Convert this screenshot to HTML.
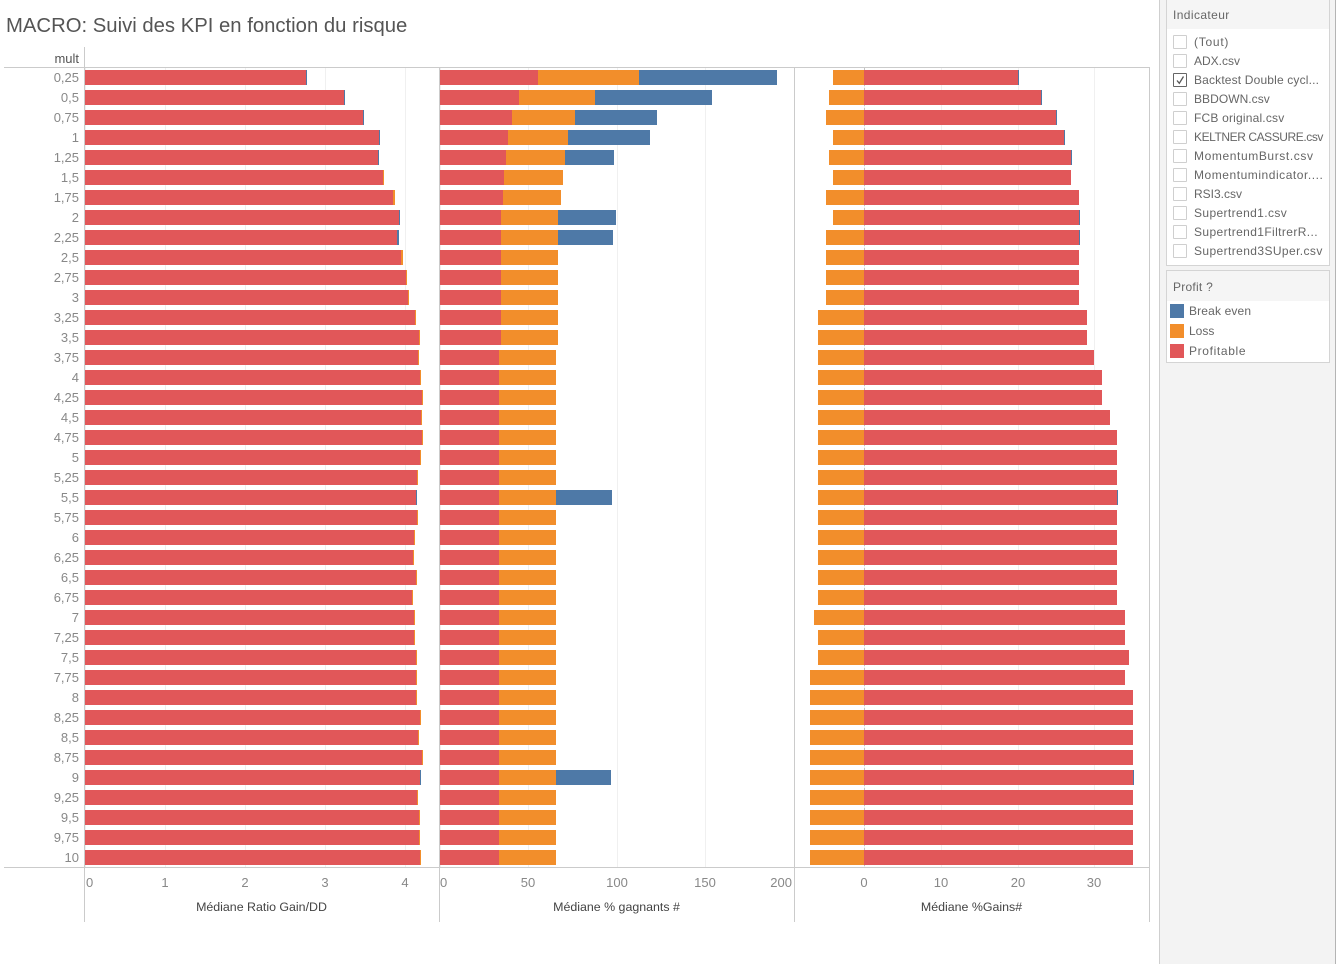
<!DOCTYPE html>
<html lang="fr">
<head>
<meta charset="utf-8">
<title>MACRO: Suivi des KPI en fonction du risque</title>
<style>
html,body{margin:0;padding:0;background:#fff;width:1337px;height:964px;overflow:hidden;font-family:"Liberation Sans",sans-serif}
#chart{position:absolute;left:0;top:0}
#chart text{font-family:"Liberation Sans",sans-serif}
.sidebar{position:absolute;left:1159px;top:0;width:175px;height:964px;background:#f3f3f3;border-left:1px solid #cfcfcf;border-right:1px solid #b4b4b4}
.card{position:absolute;left:6px;width:162px;background:#fff;border:1px solid #d4d4d4}
.card-head{position:absolute;left:0;top:0;right:0;background:#f5f5f5;color:#666;font-size:12px;padding-left:6px;box-sizing:border-box}
.row{position:absolute;left:0;right:0;height:19px;line-height:19px;font-size:12px;color:#666;white-space:nowrap}
.box{position:absolute;left:6px;top:2px;width:12px;height:12px;background:#fff;border:1px solid #cfcfcf;border-radius:1px}
.box.on{border-color:#666}
.lab{position:absolute;left:27px;top:0}
.sw{position:absolute;left:3px;top:2px;width:14px;height:14px}
.leg-lab{position:absolute;left:22px;top:0}
</style>
</head>
<body>
<svg id="chart" width="1150" height="964" viewBox="0 0 1150 964" xmlns="http://www.w3.org/2000/svg">
  <text x="6" y="32" font-size="20.3" fill="#555">MACRO: Suivi des KPI en fonction du risque</text>
  <text x="79" y="63" font-size="13" text-anchor="end" fill="#555">mult</text>
  <g id="grid"></g>
  <g id="marks"></g>
  <g id="rowLabels"></g>
  <g id="ticks"></g>
  <g stroke="#cbcbcb" stroke-width="1" fill="none" shape-rendering="crispEdges">
    <line x1="4" x2="1150" y1="67.5" y2="67.5"/>
    <line x1="4" x2="1150" y1="867.5" y2="867.5"/>
    <line x1="84.5" x2="84.5" y1="47" y2="922"/>
    <line x1="439.5" x2="439.5" y1="67" y2="922"/>
    <line x1="794.5" x2="794.5" y1="67" y2="922"/>
    <line x1="1149.5" x2="1149.5" y1="67" y2="922"/>
  </g>
  <text x="261.500" y="911" font-size="12.400" text-anchor="middle" fill="#444">Médiane Ratio Gain/DD</text>
  <text x="616.500" y="911" font-size="12.400" text-anchor="middle" fill="#444">Médiane % gagnants #</text>
  <text x="971.500" y="911" font-size="12.400" text-anchor="middle" fill="#444">Médiane %Gains#</text>
</svg>

<div class="sidebar">
  <div class="card" style="top:-1px;height:265px">
    <div class="card-head" style="height:29px;line-height:31px;letter-spacing:.4px">Indicateur</div>
    <div class="row" style="top:33px"><span class="box"></span><span class="lab" style="letter-spacing:.75px">(Tout)</span></div>
    <div class="row" style="top:52px"><span class="box"></span><span class="lab">ADX.csv</span></div>
    <div class="row" style="top:71px"><span class="box on"><svg width="12" height="12" style="position:absolute;left:0;top:0"><path d="M3 6.500l2.300 2.800L9.500 2.500" fill="none" stroke="#555" stroke-width="1.300"/></svg></span><span class="lab" style="letter-spacing:.16px">Backtest Double cycl...</span></div>
    <div class="row" style="top:90px"><span class="box"></span><span class="lab" style="letter-spacing:.05px">BBDOWN.csv</span></div>
    <div class="row" style="top:109px"><span class="box"></span><span class="lab" style="letter-spacing:.19px">FCB original.csv</span></div>
    <div class="row" style="top:128px"><span class="box"></span><span class="lab" style="letter-spacing:-.43px">KELTNER CASSURE.csv</span></div>
    <div class="row" style="top:147px"><span class="box"></span><span class="lab" style="letter-spacing:.6px">MomentumBurst.csv</span></div>
    <div class="row" style="top:166px"><span class="box"></span><span class="lab" style="letter-spacing:.54px">Momentumindicator....</span></div>
    <div class="row" style="top:185px"><span class="box"></span><span class="lab">RSI3.csv</span></div>
    <div class="row" style="top:204px"><span class="box"></span><span class="lab" style="letter-spacing:.38px">Supertrend1.csv</span></div>
    <div class="row" style="top:223px"><span class="box"></span><span class="lab" style="letter-spacing:.39px">Supertrend1FiltrerR...</span></div>
    <div class="row" style="top:242px"><span class="box"></span><span class="lab" style="letter-spacing:.4px">Supertrend3SUper.csv</span></div>
  </div>
  <div class="card" style="top:270px;height:91px">
    <div class="card-head" style="height:30px;line-height:33px;letter-spacing:.25px">Profit ?</div>
    <div class="row" style="top:31px"><span class="sw" style="background:#4e79a7"></span><span class="leg-lab" style="letter-spacing:.15px">Break even</span></div>
    <div class="row" style="top:51px"><span class="sw" style="background:#f28e2b"></span><span class="leg-lab">Loss</span></div>
    <div class="row" style="top:71px"><span class="sw" style="background:#e15759"></span><span class="leg-lab" style="letter-spacing:.65px">Profitable</span></div>
  </div>
</div>

<script>
const categories = ["0,25","0,5","0,75","1","1,25","1,5","1,75","2","2,25","2,5","2,75","3","3,25","3,5","3,75","4","4,25","4,5","4,75","5","5,25","5,5","5,75","6","6,25","6,5","6,75","7","7,25","7,5","7,75","8","8,25","8,5","8,75","9","9,25","9,5","9,75","10"];

const ratioProfitable = [2.76,3.23,3.47,3.67,3.66,3.72,3.85,3.92,3.90,3.95,4.01,4.03,4.12,4.17,4.16,4.18,4.21,4.19,4.21,4.18,4.14,4.13,4.14,4.11,4.09,4.13,4.08,4.11,4.11,4.13,4.13,4.13,4.18,4.16,4.21,4.18,4.14,4.17,4.17,4.18];
const ratioLoss = [0,0,0,0,0,0.015,0.015,0,0,0.015,0.015,0.015,0.015,0.015,0.015,0.015,0.015,0.015,0.015,0.015,0.015,0,0.015,0.015,0.015,0.015,0.015,0.015,0.015,0.015,0.015,0.015,0.015,0.015,0.015,0,0.015,0.015,0.015,0.015];
const ratioBreakEven = [0.015,0.015,0.015,0.015,0.015,0,0,0.015,0.015,0,0,0,0,0,0,0,0,0,0,0,0,0.015,0,0,0,0,0,0,0,0,0,0,0,0,0,0.015,0,0,0,0];

const winnersProfitable = [55.4,44.7,40.7,38.4,37.3,36.2,35.6,34.5,34.5,34.5,34.5,34.5,34.5,34.5,33.4,33.4,33.4,33.4,33.4,33.4,33.4,33.4,33.4,33.4,33.4,33.4,33.4,33.4,33.4,33.4,33.4,33.4,33.4,33.4,33.4,33.4,33.4,33.4,33.4,33.4];
const winnersLoss = [57.1,43,35.6,34,33.4,33.4,32.8,32.2,32.2,32.2,32.2,32.2,32.2,32.2,32.2,32.2,32.2,32.2,32.2,32.2,32.2,32.2,32.2,32.2,32.2,32.2,32.2,32.2,32.2,32.2,32.2,32.2,32.2,32.2,32.2,32.2,32.2,32.2,32.2,32.2];
const winnersBreakEven = [78,66.1,46.4,46.4,27.7,0,0,32.8,31.1,0,0,0,0,0,0,0,0,0,0,0,0,31.7,0,0,0,0,0,0,0,0,0,0,0,0,0,31.1,0,0,0,0];

const gainsProfitable = [20,23,25,26,27,27,28,28,28,28,28,28,29,29,30,31,31,32,33,33,33,33,33,33,33,33,33,34,34,34.5,34,35,35,35,35,35,35,35,35,35];
const gainsLoss = [4,4.5,5,4,4.5,4,5,4,5,5,5,5,6,6,6,6,6,6,6,6,6,6,6,6,6,6,6,6.5,6,6,7,7,7,7,7,7,7,7,7,7];
const gainsBreakEven = [0.13,0.13,0.13,0.13,0.13,0,0,0.13,0.13,0,0,0,0,0,0,0,0,0,0,0,0,0.13,0,0,0,0,0,0,0,0,0,0,0,0,0,0.13,0,0,0,0];

const ratioTicks = [0,1,2,3,4];
const winnersTicks = [0,50,100,150,200];
const gainsTicks = [0,10,20,30];

const COLORS = {profit:"#e15759", loss:"#f28e2b", even:"#4e79a7"};
const NS = "http://www.w3.org/2000/svg";
const xRatio = v => Math.round(85 + v * 80.1);
const xWinners = v => Math.round(440 + v * 1.769);
const xGains = v => Math.round(864 + v * 7.68);
const yRow = i => 70 + i * 20;
const BAR_H = 15;

function svgEl(tag, parent, attrs){
  const el = document.createElementNS(NS, tag);
  for (const k in attrs) el.setAttribute(k, attrs[k]);
  parent.appendChild(el);
  return el;
}

const grid = document.getElementById("grid");
const marks = document.getElementById("marks");
const rowLabels = document.getElementById("rowLabels");
const ticks = document.getElementById("ticks");

function drawSegment(i, x0, x1, color, name){
  if (x1 === x0) return;
  const r = svgEl("rect", marks, {x:Math.min(x0,x1), y:yRow(i), width:Math.abs(x1-x0), height:BAR_H, fill:color, "shape-rendering":"crispEdges"});
  
  
}

function drawAxis(values, xf, anchorFor, shiftFor){
  values.forEach((v, idx) => {
    const xp = xf(v) + 0.5;
    const g = svgEl("line", grid, {x1:xp, x2:xp, y1:68, y2:867, stroke:"#f0f0f0", "stroke-width":1, "shape-rendering":"crispEdges"});
    
    
    const t = svgEl("text", ticks, {x:xf(v) + shiftFor(idx), y:887, "font-size":13, fill:"#888", "text-anchor":anchorFor(idx)});
    t.textContent = String(v);
    
    
  });
}

drawAxis(ratioTicks, xRatio, i => i === 0 ? "start" : "middle", i => i === 0 ? 1 : 0);
drawAxis(winnersTicks, xWinners, i => i === 0 ? "start" : (i === 4 ? "end" : "middle"), i => i === 0 ? 0 : (i === 4 ? -2 : 0));
drawAxis(gainsTicks, xGains, () => "middle", () => 0);

const zeroLine = svgEl("line", grid, {x1:864.5, x2:864.5, y1:68, y2:867, stroke:"#c4c4c4", "stroke-width":1, "stroke-dasharray":"3 2", "shape-rendering":"crispEdges"});



categories.forEach((c, i) => {
  const t = svgEl("text", rowLabels, {x:79, y:yRow(i) + 12, "font-size":13, fill:"#888", "text-anchor":"end"});
  t.textContent = c;
  
  

  let a = ratioProfitable[i], b = a + ratioLoss[i], d = b + ratioBreakEven[i];
  drawSegment(i, xRatio(0), xRatio(a), COLORS.profit, "ratio-bar-profitable");
  drawSegment(i, xRatio(a), xRatio(b), COLORS.loss, "ratio-bar-loss");
  drawSegment(i, xRatio(b), xRatio(d), COLORS.even, "ratio-bar-break-even");

  a = winnersProfitable[i]; b = a + winnersLoss[i]; d = b + winnersBreakEven[i];
  drawSegment(i, xWinners(0), xWinners(a), COLORS.profit, "winners-bar-profitable");
  drawSegment(i, xWinners(a), xWinners(b), COLORS.loss, "winners-bar-loss");
  drawSegment(i, xWinners(b), xWinners(d), COLORS.even, "winners-bar-break-even");

  drawSegment(i, xGains(-gainsLoss[i]), xGains(0), COLORS.loss, "gains-bar-loss");
  a = gainsProfitable[i]; d = a + gainsBreakEven[i];
  drawSegment(i, xGains(0), xGains(a), COLORS.profit, "gains-bar-profitable");
  drawSegment(i, xGains(a), xGains(d), COLORS.even, "gains-bar-break-even");
});
</script>
</body>
</html>
